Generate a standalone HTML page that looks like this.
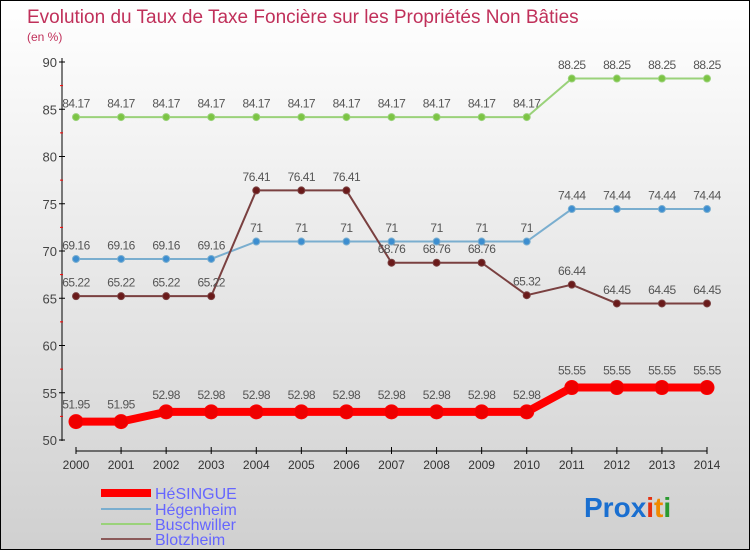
<!DOCTYPE html>
<html><head><meta charset="utf-8"><style>
body{margin:0}
#c{width:748px;height:548px;border:1px solid #000;background:linear-gradient(#fff,#d0d0d0);position:relative;font-family:"Liberation Sans",sans-serif;overflow:hidden}
</style></head><body>
<div id="c">
<svg id="s" width="748" height="548">
<text x="26" y="22" font-size="19" fill="#c0305a">Evolution du Taux de Taxe Foncière sur les Propriétés Non Bâties</text>
<text x="26" y="40" font-size="12" fill="#c0305a">(en %)</text>
<g id="g"></g>
<g>
<line x1="100" y1="492" x2="150" y2="492" stroke="#f00" stroke-width="8"/>
<text x="154" y="498" font-size="16" fill="#6666ff">HéSINGUE</text>
<line x1="100" y1="508" x2="150" y2="508" stroke="#7aaecf" stroke-width="2"/>
<text x="154" y="514" font-size="16" fill="#6666ff">Hégenheim</text>
<line x1="100" y1="523" x2="150" y2="523" stroke="#9ad27a" stroke-width="2"/>
<text x="154" y="529" font-size="16" fill="#6666ff">Buschwiller</text>
<line x1="100" y1="538" x2="150" y2="538" stroke="#8b5a5a" stroke-width="2"/>
<text x="154" y="544" font-size="16" fill="#6666ff">Blotzheim</text>
</g>
<text x="583" y="516" font-size="28" font-weight="bold"><tspan fill="#1a6fd0">Pro</tspan><tspan fill="#1a6fd0">x</tspan><tspan fill="#e53010">i</tspan><tspan fill="#f08a00">t</tspan><tspan fill="#2a9a30">i</tspan></text>
</svg>
</div>
<script>
const years=[2000,2001,2002,2003,2004,2005,2006,2007,2008,2009,2010,2011,2012,2013,2014];
const yTicks=[50,55,60,65,70,75,80,85,90];
const hesingue=[51.95,51.95,52.98,52.98,52.98,52.98,52.98,52.98,52.98,52.98,52.98,55.55,55.55,55.55,55.55];
const hegenheim=[69.16,69.16,69.16,69.16,71,71,71,71,71,71,71,74.44,74.44,74.44,74.44];
const buschwiller=[84.17,84.17,84.17,84.17,84.17,84.17,84.17,84.17,84.17,84.17,84.17,88.25,88.25,88.25,88.25];
const blotzheim=[65.22,65.22,65.22,65.22,76.41,76.41,76.41,68.76,68.76,68.76,65.32,66.44,64.45,64.45,64.45];
const X=i=>75+i*(706-75)/(years.length-1);
const Y=v=>439-(v-50)*(439-61)/40;
const NS="http://www.w3.org/2000/svg",g=document.getElementById('g');
function el(t,a,p){const e=document.createElementNS(NS,t);for(const k in a)e.setAttribute(k,a[k]);(p||g).appendChild(e);return e;}
const ax=el('line',{x1:61,y1:57,x2:61,y2:440,stroke:'#000'});


const xx=el('line',{x1:75,y1:450,x2:706,y2:450,stroke:'#000'});


yTicks.forEach((v,i)=>{
 el('line',{x1:58,y1:Y(v),x2:64,y2:Y(v),stroke:'#000'});
 if(i<yTicks.length-1)el('line',{x1:59,y1:Y(v+2.5),x2:62,y2:Y(v+2.5),stroke:'#f00'});
 const t=el('text',{x:56,y:Y(v)+5,'text-anchor':'end','font-size':13,fill:'#444'});t.textContent=v;
 
 
});
years.forEach((y,i)=>{
 el('line',{x1:X(i),y1:446,x2:X(i),y2:453,stroke:'#000'});
 const t=el('text',{x:X(i),y:468,'text-anchor':'middle','font-size':12,fill:'#333'});t.textContent=y;
 
 
});
function series(d,name,col,w,r,fill){
 const p=el('polyline',{points:d.map((v,i)=>X(i)+','+Y(v)).join(' '),fill:'none',stroke:col,'stroke-width':w});
 
 
 d.forEach((v,i)=>{
  const c=el('circle',{cx:X(i),cy:Y(v),r:r,fill:fill,stroke:col});
  
  
  const t=el('text',{x:X(i),y:Y(v)-(r+6),'text-anchor':'middle','font-size':12,fill:'#555','letter-spacing':'-0.5'});
  t.textContent=String(v);
  
  
 });
}
series(buschwiller,'buschwiller','#9ad27a',2,3.5,'#7cc444');
series(hegenheim,'hegenheim','#7aaecf',2,3.5,'#3d8ed0');
series(blotzheim,'blotzheim','#7a4040',2,3.5,'#6a1a1a');
series(hesingue,'hesingue','#f00',8,7,'#e00');
</script>
</body></html>
